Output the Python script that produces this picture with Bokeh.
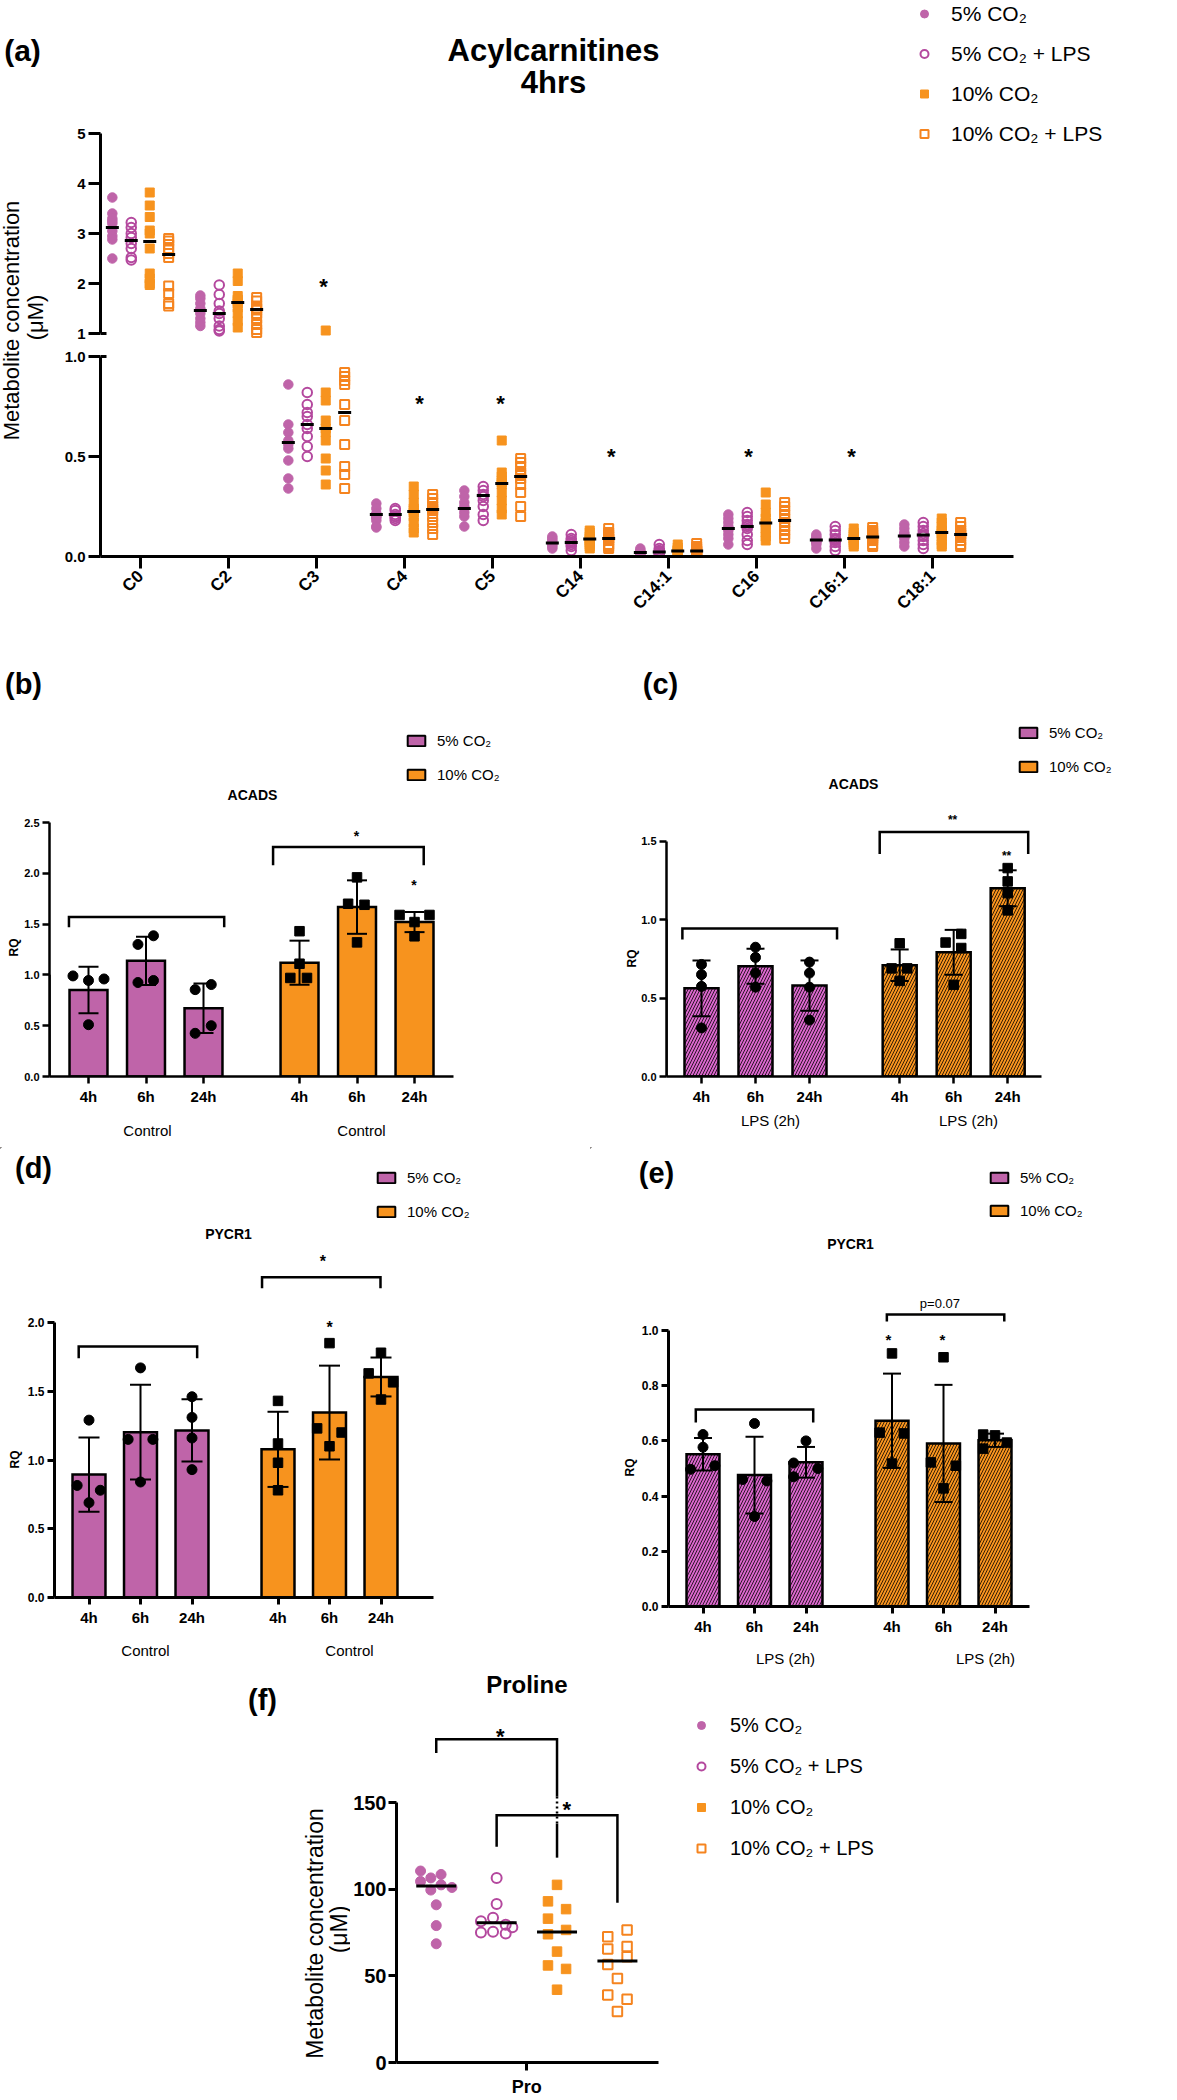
import math
import numpy as np
from bokeh.plotting import figure
from bokeh.models import (Range1d, FixedTicker, NumeralTickFormatter, Label, Legend, LegendItem,
                          LinearAxis)
from bokeh.core.properties import value
from bokeh.layouts import column, row
from bokeh.embed import file_html
from bokeh.resources import INLINE

FONT = "Liberation Sans"
PURPLE = "#BF64A9"
PURPLE_LINE = "#B4489E"
PURPLE_HATCH = "#D966CB"
ORANGE = "#F7931E"
ORANGE_LINE = "#F5841F"

# ---------------- data: (a) acylcarnitines ----------------
acyl_names = ["C0", "C2", "C3", "C4", "C5", "C14", "C14:1", "C16", "C16:1", "C18:1"]
acyl_5co2 = [
    [3.72, 3.40, 3.30, 3.25, 3.20, 3.05, 2.95, 2.88, 2.50],
    [1.76, 1.70, 1.60, 1.50, 1.46, 1.40, 1.30, 1.22, 1.15],
    [0.86, 0.66, 0.62, 0.58, 0.56, 0.54, 0.48, 0.39, 0.34],
    [0.265, 0.24, 0.215, 0.21, 0.20, 0.195, 0.18, 0.15, 0.145],
    [0.33, 0.30, 0.27, 0.25, 0.24, 0.22, 0.20, 0.15],
    [0.10, 0.09, 0.08, 0.07, 0.065, 0.06, 0.05, 0.04],
    [0.04, 0.03, 0.025, 0.02, 0.02, 0.015, 0.01, 0.005],
    [0.21, 0.19, 0.17, 0.15, 0.14, 0.13, 0.11, 0.09, 0.06],
    [0.11, 0.10, 0.09, 0.085, 0.08, 0.075, 0.07, 0.06, 0.04],
    [0.16, 0.14, 0.12, 0.11, 0.10, 0.10, 0.09, 0.07, 0.05],
]
acyl_5co2_lps = [
    [3.22, 3.12, 3.00, 2.92, 2.80, 2.70, 2.52, 2.47],
    [1.97, 1.78, 1.60, 1.45, 1.40, 1.30, 1.15, 1.08, 1.05],
    [0.82, 0.76, 0.72, 0.70, 0.66, 0.64, 0.60, 0.55, 0.50],
    [0.24, 0.23, 0.21, 0.20, 0.20, 0.19, 0.18],
    [0.35, 0.33, 0.31, 0.30, 0.28, 0.25, 0.21, 0.18],
    [0.11, 0.09, 0.08, 0.07, 0.07, 0.06, 0.05, 0.03],
    [0.06, 0.04, 0.03, 0.025, 0.02, 0.02, 0.01, 0.005],
    [0.22, 0.20, 0.18, 0.16, 0.15, 0.14, 0.11, 0.08, 0.06],
    [0.15, 0.13, 0.11, 0.09, 0.085, 0.08, 0.07, 0.05, 0.03],
    [0.17, 0.15, 0.13, 0.115, 0.105, 0.10, 0.08, 0.06, 0.04],
]
acyl_10co2 = [
    [3.82, 3.56, 3.33, 3.06, 3.00, 2.70, 2.20, 2.10, 2.00, 1.97],
    [2.20, 2.05, 1.75, 1.68, 1.65, 1.60, 1.52, 1.40, 1.25, 1.12],
    [1.06, 0.82, 0.78, 0.68, 0.64, 0.62, 0.58, 0.49, 0.43, 0.36],
    [0.35, 0.31, 0.27, 0.24, 0.23, 0.22, 0.20, 0.17, 0.14, 0.12],
    [0.58, 0.42, 0.40, 0.38, 0.37, 0.36, 0.32, 0.28, 0.24, 0.21],
    [0.13, 0.12, 0.10, 0.09, 0.085, 0.08, 0.07, 0.06, 0.05, 0.04],
    [0.06, 0.045, 0.035, 0.03, 0.03, 0.025, 0.02, 0.015, 0.01, 0.005],
    [0.32, 0.26, 0.22, 0.19, 0.17, 0.165, 0.14, 0.12, 0.10, 0.08],
    [0.14, 0.12, 0.11, 0.10, 0.09, 0.09, 0.08, 0.07, 0.06, 0.05],
    [0.19, 0.17, 0.15, 0.13, 0.125, 0.115, 0.10, 0.08, 0.06, 0.05],
]
acyl_10co2_lps = [
    [2.90, 2.85, 2.78, 2.70, 2.60, 2.52, 1.95, 1.80, 1.60, 1.55],
    [1.72, 1.65, 1.55, 1.50, 1.47, 1.40, 1.30, 1.18, 1.08, 1.02],
    [0.92, 0.90, 0.88, 0.86, 0.76, 0.68, 0.56, 0.45, 0.41, 0.34],
    [0.31, 0.29, 0.27, 0.25, 0.24, 0.23, 0.20, 0.17, 0.14, 0.11],
    [0.49, 0.47, 0.45, 0.42, 0.41, 0.39, 0.36, 0.32, 0.25, 0.20],
    [0.14, 0.12, 0.11, 0.10, 0.09, 0.09, 0.08, 0.06, 0.05, 0.04],
    [0.065, 0.05, 0.04, 0.03, 0.03, 0.025, 0.02, 0.01, 0.005, 0.0],
    [0.27, 0.25, 0.23, 0.21, 0.19, 0.17, 0.15, 0.13, 0.11, 0.09],
    [0.145, 0.13, 0.12, 0.11, 0.10, 0.095, 0.09, 0.08, 0.06, 0.05],
    [0.17, 0.15, 0.13, 0.12, 0.11, 0.11, 0.10, 0.08, 0.06, 0.05],
]
acyl_med_5co2 = [3.12, 1.46, 0.57, 0.21, 0.24, 0.067, 0.02, 0.14, 0.082, 0.103]
acyl_med_5co2_lps = [2.86, 1.40, 0.66, 0.21, 0.305, 0.07, 0.023, 0.15, 0.083, 0.107]
acyl_med_10co2 = [2.84, 1.62, 0.64, 0.225, 0.365, 0.087, 0.028, 0.167, 0.09, 0.12]
acyl_med_10co2_lps = [2.58, 1.48, 0.72, 0.235, 0.40, 0.09, 0.028, 0.18, 0.098, 0.11]
acyl_sig_names = ["C3", "C4", "C5", "C14", "C16", "C16:1"]
acyl_sig_level = [2.02, 0.785, 0.785, 0.52, 0.52, 0.52]

# ---------------- data: qPCR RQ panels (b)-(e) ----------------
time_labels = ["4h", "6h", "24h"]
acads_ctrl_5co2 = [[0.99, 0.945, 0.96, 0.51], [1.30, 1.385, 0.925, 0.945], [0.855, 0.905, 0.50, 0.425]]
acads_ctrl_10co2 = [[1.43, 1.11, 0.97, 0.97], [1.96, 1.70, 1.69, 1.32], [1.59, 1.59, 1.52, 1.38]]
acads_lps_5co2 = [[0.715, 0.65, 0.575, 0.31], [0.825, 0.76, 0.66, 0.57], [0.73, 0.66, 0.57, 0.36]]
acads_lps_10co2 = [[0.85, 0.69, 0.69, 0.61], [0.855, 0.91, 0.82, 0.585], [1.33, 1.245, 1.17, 1.06]]
pycr1_ctrl_5co2 = [[1.29, 0.815, 0.78, 0.69], [1.67, 1.15, 1.15, 0.84], [1.46, 1.31, 1.16, 0.93]]
pycr1_ctrl_10co2 = [[1.43, 1.12, 0.98, 0.78], [1.85, 1.23, 1.20, 1.10], [1.78, 1.63, 1.565, 1.44]]
pycr1_lps_5co2 = [[0.623, 0.577, 0.497, 0.51], [0.663, 0.46, 0.455, 0.326], [0.60, 0.52, 0.50, 0.47]]
pycr1_lps_10co2 = [[0.917, 0.63, 0.627, 0.518], [0.903, 0.522, 0.51, 0.428], [0.623, 0.62, 0.594, 0.572]]

# ---------------- data: (f) proline ----------------
pro_5co2 = [110.5, 108.5, 106.5, 104.5, 102.5, 101, 99.5, 91, 79, 68.5]
pro_5co2_lps = [106.5, 91.5, 83.5, 81.5, 79.5, 78, 75.5, 75, 74.5]
pro_10co2 = [102.5, 93, 88.5, 83, 76.5, 74, 64, 56, 54, 42]
pro_10co2_lps = [76.5, 72.5, 67, 65.5, 61, 56.5, 48.5, 39, 36.5, 29.5]
pro_medians = [101.8, 80.7, 75.3, 58.5]


# ---------------- layout helpers (positions / styles) ----------------
def make_panel(x0, y0, w, h, fl, fb, xo, xs, yo, ys, xaxis=True, yaxis=True, x_range=None):
    if x_range is None:
        x_range = Range1d((fl - xo) / xs, (x0 + w - xo) / xs)
    y_range = Range1d((yo - fb) / ys, (yo - y0) / ys)
    p = figure(width=w, height=h, x_range=x_range, y_range=y_range,
               output_backend="svg", toolbar_location=None, title=None,
               x_axis_location="below" if xaxis else None,
               y_axis_location="left" if yaxis else None,
               min_border=0, min_border_left=int(round(fl - x0)),
               min_border_bottom=int(round(y0 + h - fb)),
               min_border_top=0, min_border_right=0)
    p.outline_line_color = None
    p.xgrid.visible = False
    p.ygrid.visible = False
    X = lambda px: (px - xo) / xs
    Y = lambda py: (yo - py) / ys
    return p, X, Y


def strip(x0, y0, w, h, left=0):
    # text-only canvas whose data coordinates are page pixels; `left` keeps its frame
    # aligned with the frame of a plot stacked in the same column
    p = figure(width=w, height=h, x_range=Range1d(x0 + left, x0 + w), y_range=Range1d(y0 + h, y0),
               x_axis_location=None, y_axis_location=None, output_backend="svg",
               toolbar_location=None, min_border=0, min_border_left=left, title=None)
    p.outline_line_color = None
    p.xgrid.visible = False
    p.ygrid.visible = False
    return p


def label(p, x, y, text, size, bold=False, angle=0.0, align="center", baseline="middle"):
    p.add_layout(Label(x=x, y=y, text=text, text_font=FONT, text_font_size=f"{size}px",
                       text_font_style="bold" if bold else "normal", angle=angle,
                       text_align=align, text_baseline=baseline, text_color="black"))


def style_axis(ax, lw, tick_out, size, standoff=4, bold=True):
    ax.axis_line_width = lw
    ax.axis_line_color = "black"
    ax.major_tick_line_width = lw
    ax.major_tick_line_color = "black"
    ax.major_tick_out = tick_out
    ax.major_tick_in = 0
    ax.minor_tick_line_color = None
    ax.major_label_text_font = FONT
    ax.major_label_text_font_size = f"{size}px"
    ax.major_label_text_font_style = "bold" if bold else "normal"
    ax.major_label_text_color = "black"
    ax.major_label_standoff = standoff


def text_axis(p, side, ticks, texts, size, standoff, bold=False, orientation="horizontal"):
    ax = LinearAxis(ticker=FixedTicker(ticks=ticks),
                    major_label_overrides={t: s for t, s in zip(ticks, texts)})
    ax.axis_line_color = None
    ax.major_tick_line_color = None
    ax.minor_tick_line_color = None
    ax.major_tick_out = 0
    ax.major_tick_in = 0
    ax.major_label_text_font = FONT
    ax.major_label_text_font_size = f"{size}px"
    ax.major_label_text_font_style = "bold" if bold else "normal"
    ax.major_label_text_color = "black"
    ax.major_label_standoff = standoff
    ax.major_label_orientation = orientation
    p.add_layout(ax, side)


def bar_legend(p, loc, spacing):
    rp = p.vbar(x=[-1000], top=[1], bottom=[0], width=1, fill_color=PURPLE, line_color="black", line_width=2)
    ro = p.vbar(x=[-1000], top=[1], bottom=[0], width=1, fill_color=ORANGE, line_color="black", line_width=2)
    leg = Legend(items=[LegendItem(label=value("5% CO₂"), renderers=[rp]),
                        LegendItem(label=value("10% CO₂"), renderers=[ro])],
                 location=loc, padding=0, margin=0, spacing=spacing,
                 glyph_width=22, glyph_height=13, label_height=20, label_standoff=10,
                 label_text_font=FONT, label_text_font_size="15px", label_text_color="black",
                 border_line_color=None, background_fill_alpha=0)
    p.add_layout(leg)


# ================= panel (a) =================
a_lab = strip(0, 0, 50, 637)
label(a_lab, 22, 50, "(a)", 30, bold=True)
label(a_lab, 11, 320, "Metabolite concentration", 22, angle=math.pi / 2)
label(a_lab, 35, 317, "(μM)", 22, angle=math.pi / 2)

A_FL, A_C0, A_SP = 100, 140, 88
xr_a = Range1d((A_FL - A_C0) / A_SP, (1177 - A_C0) / A_SP)
a_top, aX, aYt = make_panel(50, 0, 1127, 345, A_FL, 345, A_C0, A_SP, 383, 50, xaxis=False, x_range=xr_a)
a_bot, _, aYb = make_panel(50, 345, 1127, 292, A_FL, 556, A_C0, A_SP, 556, 200, x_range=xr_a)

ya = a_top.yaxis[0]
style_axis(ya, 3, 12, 15, standoff=3)
ya.ticker = FixedTicker(ticks=[1, 2, 3, 4, 5])
ya.bounds = (1, 5)
yb = a_bot.yaxis[0]
style_axis(yb, 3, 12, 15, standoff=3)
yb.ticker = FixedTicker(ticks=[0, 0.5, 1.0])
yb.formatter = NumeralTickFormatter(format="0.0")
yb.bounds = (0, 1)
xb = a_bot.xaxis[0]
style_axis(xb, 3, 12, 17, standoff=5)
xb.ticker = FixedTicker(ticks=list(range(len(acyl_names))))
xb.major_label_overrides = {i: n for i, n in enumerate(acyl_names)}
xb.major_label_orientation = math.pi / 4
xb.bounds = (xr_a.start, (1013 - A_C0) / A_SP)

# axis-break ticks crossing the axis
a_top.segment(x0=[xr_a.start], y0=[1], x1=[aX(106)], y1=[1], line_color="black", line_width=3)
a_bot.segment(x0=[xr_a.start], y0=[1.0], x1=[aX(106)], y1=[1.0], line_color="black", line_width=3)

BREAK = 1.0
a_groups = [
    (acyl_5co2, acyl_med_5co2, "circle", PURPLE, PURPLE, -0.32, "5% CO₂", 9.5),
    (acyl_5co2_lps, acyl_med_5co2_lps, "circle", None, PURPLE_LINE, -0.105, "5% CO₂ + LPS", 9.5),
    (acyl_10co2, acyl_med_10co2, "square", ORANGE, ORANGE, 0.105, "10% CO₂", 9),
    (acyl_10co2_lps, acyl_med_10co2_lps, "square", None, ORANGE_LINE, 0.32, "10% CO₂ + LPS", 9),
]
legend_items_a = []
for vals, meds, marker, fill, line, off, name, msize in a_groups:
    xu, yu, xl, yl = [], [], [], []
    for i, arr in enumerate(vals):
        for v in arr:
            if v > BREAK:
                xu.append(i + off); yu.append(v)
            else:
                xl.append(i + off); yl.append(v)
    lw = 2.0 if fill is None else 1
    r_top = a_top.scatter(xu, yu, marker=marker, size=msize, fill_color=fill, line_color=line, line_width=lw)
    a_bot.scatter(xl, yl, marker=marker, size=msize, fill_color=fill, line_color=line, line_width=lw)
    legend_items_a.append(LegendItem(label=value(name), renderers=[r_top]))
    mu = [(i + off, m) for i, m in enumerate(meds) if m > BREAK]
    ml = [(i + off, m) for i, m in enumerate(meds) if m <= BREAK]
    if mu:
        a_top.scatter([q[0] for q in mu], [q[1] for q in mu], marker="dash", size=13, line_color="black", line_width=3)
    if ml:
        a_bot.scatter([q[0] for q in ml], [q[1] for q in ml], marker="dash", size=13, line_color="black", line_width=3)

a_star_dx = [0.08, 0.17, 0.09, 0.35, -0.09, 0.08]
for nm, lev, dx in zip(acyl_sig_names, acyl_sig_level, a_star_dx):
    xi = acyl_names.index(nm) + dx
    if lev > BREAK:
        label(a_top, xi, lev - 0.2 * 22 / 50, "*", 22, bold=True)
    else:
        label(a_bot, xi, lev - 0.2 * 22 / 200, "*", 22, bold=True)

label(a_top, aX(553), aYt(50), "Acylcarnitines", 31, bold=True)
label(a_top, aX(553), aYt(82), "4hrs", 31, bold=True)
leg_a = Legend(items=legend_items_a, location=(914 - A_FL, 199), padding=0, margin=0, spacing=15,
               glyph_width=20, glyph_height=25, label_height=25, label_standoff=17,
               label_text_font=FONT, label_text_font_size="21px", label_text_color="black",
               border_line_color=None, background_fill_alpha=0)
a_top.add_layout(leg_a)

# ================= bar panels (b)-(e) =================
ORANGE_SHIFT = 3.67
AXIS_ROOM = 32  # px below each bar-panel frame kept for the tick labels


def bar_panel(x0, y0, w, fl, fb, pos0, sp, ppu, axis_end, yticks, ytick_size, bw, cap,
              purple, orange, jit_p, jit_o, hatch, group_name, group_xy, bottom_end,
              rq_y, rq_standoff, brackets, stars, star_size, title=None, title_xy=None,
              leg_loc=None, leg_spacing=14, extra_texts=(), axis_lw=2.5):
    h = fb + AXIS_ROOM - y0
    p, X, Y = make_panel(x0, y0, w, h, fl, fb, pos0, sp, fb, ppu)
    pos_p = [0, 1, 2]
    pos_o = [ORANGE_SHIFT + i for i in range(3)]
    series = [(pos_p, purple, jit_p, PURPLE_HATCH if hatch else PURPLE, "circle", 10),
              (pos_o, orange, jit_o, ORANGE, "square", 9.5)]
    for pos, groups, jit, fill, marker, msz in series:
        means = [float(np.mean(g)) for g in groups]
        sds = [float(np.std(g, ddof=1)) for g in groups]
        kw = dict(hatch_pattern="/", hatch_color="black", hatch_weight=0.8, hatch_scale=6) if hatch else {}
        p.vbar(x=pos, top=means, bottom=0, width=bw, fill_color=fill, line_color="black",
               line_width=2.5, line_join="miter", **kw)
        lo = [m - s for m, s in zip(means, sds)]
        hi = [m + s for m, s in zip(means, sds)]
        p.segment(x0=pos, y0=lo, x1=pos, y1=hi, line_color="black", line_width=2)
        p.scatter(pos + pos, lo + hi, marker="dash", size=cap, line_color="black", line_width=2)
        xs = [pp + jj for pp, js in zip(pos, jit) for jj in js]
        ys = [v for g in groups for v in g]
        p.scatter(xs, ys, marker=marker, size=msz, fill_color="black", line_color="black")
    for x1, x2, top, foot in brackets:
        p.line([x1, x1, x2, x2], [foot, top, top, foot], line_color="black", line_width=2.5, line_join="miter")
    for txt, xv, yv in stars:
        label(p, xv, yv - 0.2 * star_size / ppu, txt, star_size, bold=True)
    for txt, xv, yv, sz in extra_texts:
        label(p, xv, yv, txt, sz)
    # axes
    xa = p.xaxis[0]
    style_axis(xa, axis_lw, 7, 15, standoff=4)
    ticks = pos_p + pos_o
    xa.ticker = FixedTicker(ticks=ticks)
    xa.major_label_overrides = {t: lab for t, lab in zip(ticks, time_labels * 2)}
    xa.bounds = (p.x_range.start, axis_end)
    yx = p.yaxis[0]
    style_axis(yx, axis_lw, 7, ytick_size, standoff=3)
    yx.ticker = FixedTicker(ticks=yticks)
    yx.formatter = NumeralTickFormatter(format="0.0")
    yx.bounds = (0, yticks[-1])
    text_axis(p, "left", [Y(rq_y)], ["RQ"], 12, rq_standoff, bold=True, orientation="vertical")
    if title is not None:
        label(p, X(title_xy[0]), Y(title_xy[1]), title, 14, bold=True)
    if leg_loc is not None:
        bar_legend(p, leg_loc, leg_spacing)
    # group labels under the time labels
    sb = strip(x0, y0 + h, w, bottom_end - (y0 + h), left=fl - x0)
    for gx, gy in group_xy:
        label(sb, gx, gy, group_name, 15)
    return column(p, sb)


panel_b = bar_panel(0, 712, 590, 49, 1076, 88, 57.5, 101.6, 6.35, [0, 0.5, 1.0, 1.5, 2.0, 2.5], 11, 0.66, 20,
                    acads_ctrl_5co2, acads_ctrl_10co2,
                    [[-0.27, 0, 0.27, 0], [-0.14, 0.13, -0.14, 0.13], [-0.145, 0.135, 0.135, -0.145]],
                    [[0, 0, -0.16, 0.13], [0, -0.155, 0.13, 0], [-0.26, 0.26, 0, 0]],
                    False, "Control", [(147, 1130), (361, 1130)], 1147,
                    947, 1,
                    [(-0.34, 2.36, 1.57, 1.47), (3.21, 5.83, 2.26, 2.08)],
                    [("*", 4.66, 2.39), ("*", 5.66, 1.91)], 14,
                    title="ACADS", title_xy=(252, 794), leg_loc=(356, 292), leg_spacing=14)

panel_c = bar_panel(590, 712, 587, 666, 1076, 701, 54, 156.7, 6.3, [0, 0.5, 1.0, 1.5], 11, 0.63, 18,
                    acads_lps_5co2, acads_lps_10co2,
                    [[0, 0, 0, 0], [0, 0, 0, 0], [0, 0, 0, 0]],
                    [[0, -0.15, 0.14, 0], [-0.15, 0.14, 0.14, 0], [0, 0, 0, 0]],
                    True, "LPS (2h)", [(770, 1120), (968, 1120)], 1147,
                    958, 0,
                    [(-0.354, 2.51, 0.945, 0.875), (3.30, 6.05, 1.56, 1.42)],
                    [("**", 4.65, 1.65), ("**", 5.65, 1.42)], 12,
                    title="ACADS", title_xy=(853, 783), leg_loc=(351, 300), leg_spacing=14)

panel_d = bar_panel(0, 1245, 590, 54, 1597, 88.5, 51.5, 137.5, 6.69, [0, 0.5, 1.0, 1.5, 2.0], 12, 0.64, 21,
                    pycr1_ctrl_5co2, pycr1_ctrl_10co2,
                    [[0, -0.23, 0.22, 0], [0, -0.24, 0.24, 0], [0, 0, 0, 0]],
                    [[0, 0, 0, 0], [0, -0.24, 0.235, 0], [0, -0.24, 0.235, 0]],
                    False, "Control", [(145, 1650), (349, 1650)], 1670,
                    1459, 3,
                    [(-0.2, 2.1, 1.825, 1.74), (3.36, 5.66, 2.33, 2.25)],
                    [("*", 4.54, 2.47), ("*", 4.67, 1.99)], 16, axis_lw=3)

panel_e = bar_panel(590, 1255, 587, 668, 1606, 702.5, 51.5, 276, 6.34, [0, 0.2, 0.4, 0.6, 0.8, 1.0], 12, 0.64, 18,
                    pycr1_lps_5co2, pycr1_lps_10co2,
                    [[0, 0, -0.24, 0.23], [0, -0.23, 0.24, 0], [0, -0.24, 0.23, -0.24]],
                    [[0, -0.24, 0.23, 0], [0, -0.245, 0.24, 0], [-0.23, 0, 0.23, -0.23]],
                    True, "LPS (2h)", [(785, 1658), (985, 1658)], 1670,
                    1467, 2,
                    [(-0.14, 2.14, 0.714, 0.667), (3.57, 5.85, 1.058, 1.033)],
                    [("*", 3.6, 0.98), ("*", 4.65, 0.98)], 15,
                    extra_texts=[("p=0.07", 4.6, 1.098, 13)], axis_lw=3)

strip2 = strip(0, 637, 1177, 75)
label(strip2, 23, 683, "(b)", 29, bold=True)
label(strip2, 660, 683, "(c)", 29, bold=True)

strip3_d = strip(0, 1147, 590, 98)
label(strip3_d, 33, 1167, "(d)", 29, bold=True)
label(strip3_d, 228, 1233, "PYCR1", 14, bold=True)
bar_legend(strip3_d, (375, 24), 14)

strip3_e = strip(590, 1147, 587, 108)
label(strip3_e, 656, 1172, "(e)", 29, bold=True)
label(strip3_e, 850, 1243, "PYCR1", 14, bold=True)
bar_legend(strip3_e, (398, 35), 13)

# ================= panel (f) =================
F_X0, F_FL, F_PRO, F_XS, F_Y0, F_YS = 350, 392, 523, 60.7, 2062, 1.733
fig_f, fX, fY = make_panel(F_X0, 1670, 1177 - F_X0, F_Y0 + 10 - 1670, F_FL, F_Y0, F_PRO, F_XS, F_Y0, F_YS)
fxa = fig_f.xaxis[0]
style_axis(fxa, 3, 8, 1, standoff=0)
fxa.major_label_text_font_size = "0px"
fxa.ticker = FixedTicker(ticks=[0])
fxa.major_label_overrides = {0: ""}
fxa.bounds = (fig_f.x_range.start, (655 - F_PRO) / F_XS)
fya = fig_f.yaxis[0]
style_axis(fya, 3, 8, 20, standoff=2)
fya.ticker = FixedTicker(ticks=[0, 50, 100, 150])
fya.bounds = (0, 150)

f_groups = [
    (pro_5co2, [-0.26, 0.08, -0.09, -0.26, 0.08, 0.26, -0.09, 0, 0, 0], -1.5, "circle", PURPLE, PURPLE, "5% CO₂", 10),
    (pro_5co2_lps, [0, 0, -0.06, -0.26, 0.15, 0.26, -0.06, -0.26, 0.15], -0.5, "circle", None, PURPLE_LINE, "5% CO₂ + LPS", 10),
    (pro_10co2, [0, -0.15, 0.15, -0.15, 0.15, -0.15, 0, -0.15, 0.15, 0], 0.5, "square", ORANGE, ORANGE, "10% CO₂", 9.5),
    (pro_10co2_lps, [0.16, -0.16, 0.16, -0.16, 0.16, -0.16, 0, -0.16, 0.16, 0], 1.5, "square", None, ORANGE_LINE, "10% CO₂ + LPS", 9.5),
]
legend_items_f = []
for (vals, jit, center, marker, fill, line, name, msz), med in zip(f_groups, pro_medians):
    r = fig_f.scatter([center + j for j in jit], vals, marker=marker, size=msz, fill_color=fill,
                      line_color=line, line_width=2.0 if fill is None else 1)
    legend_items_f.append(LegendItem(label=value(name), renderers=[r]))
    fig_f.scatter([center], [med], marker="dash", size=40, line_color="black", line_width=3)

# significance brackets
fig_f.line([-1.5, -1.5, 0.5, 0.5], [178.6, 186.5, 186.5, 153.5], line_color="black", line_width=2.5, line_join="miter")
fig_f.line([0.5, 0.5], [153.5, 137.8], line_color="black", line_width=2.5, line_dash="2 3")
fig_f.line([0.5, 0.5], [137.8, 118.2], line_color="black", line_width=2.5)
fig_f.line([-0.5, -0.5, 1.5, 1.5], [124.5, 142.7, 142.7, 92.2], line_color="black", line_width=2.5, line_join="miter")
label(fig_f, -0.44, 190.8 - 0.2 * 22 / F_YS, "*", 22, bold=True)
label(fig_f, 0.66, 148.6 - 0.2 * 22 / F_YS, "*", 22, bold=True)
label(fig_f, fX(523), fY(1684), "Proline", 24, bold=True)
leg_f = Legend(items=legend_items_f, location=(687 - F_FL, 202), padding=0, margin=0, spacing=17,
               glyph_width=20, glyph_height=24, label_height=24, label_standoff=19,
               label_text_font=FONT, label_text_font_size="20px", label_text_color="black",
               border_line_color=None, background_fill_alpha=0)
fig_f.add_layout(leg_f)

strip_pro = strip(F_X0, F_Y0 + 10, 1177 - F_X0, 2100 - (F_Y0 + 10), left=F_FL - F_X0)
label(strip_pro, 523, 2086, "Pro", 18, bold=True)

strip_f = strip(0, 1670, F_X0, 430)
label(strip_f, 262, 1699, "(f)", 29, bold=True)
label(strip_f, 314, 1933, "Metabolite concentration", 23, angle=math.pi / 2)
label(strip_f, 338, 1929, "(μM)", 23, angle=math.pi / 2)

layout = column(
    row(a_lab, column(a_top, a_bot)),
    column(strip2, row(panel_b, panel_c)),
    row(column(strip3_d, panel_d), column(strip3_e, panel_e)),
    row(strip_f, column(fig_f, strip_pro)),
)
open("out.html", "w").write(file_html(layout, INLINE))
